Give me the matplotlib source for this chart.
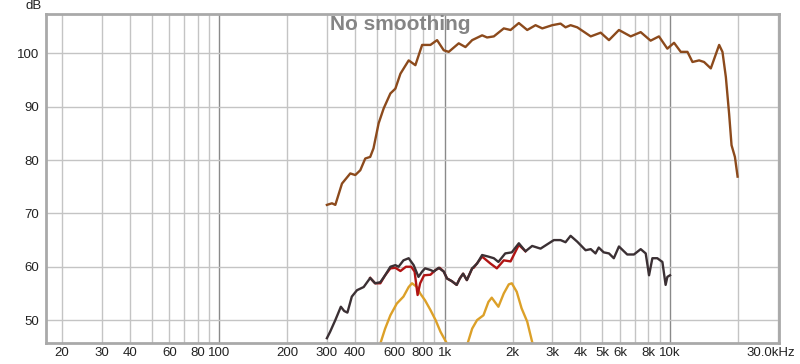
import matplotlib
matplotlib.use("Agg")
import matplotlib.pyplot as plt
import matplotlib.transforms as mtransforms
import numpy as np

plt.rcParams['font.family'] = ['Liberation Sans', 'DejaVu Sans']

# ---- data (Hz, dB) ----
brown_f = [300, 316, 327, 350, 381, 401, 422, 444, 467, 483, 509, 536, 574, 604, 636, 692, 741,
           794, 864, 925, 990, 1042, 1154, 1236, 1324, 1466, 1542, 1652, 1829, 1960, 2133, 2324,
           2530, 2711, 3000, 3267, 3437, 3620, 3875, 4447, 4924, 5358, 5933, 6690, 7410, 8200,
           8930, 9730, 10420, 11160, 11950, 12580, 13460, 14160, 15170, 16520, 17090, 17690,
           18290, 18750, 19410, 19950]
brown_db = [71.6, 71.9, 71.6, 75.6, 77.5, 77.2, 78.1, 80.3, 80.6, 82.2, 86.9, 89.7, 92.5, 93.4, 96.2,
            98.7, 97.8, 101.6, 101.6, 102.5, 100.6, 100.3, 101.9, 101.2, 102.5, 103.4, 103.0, 103.2,
            104.7, 104.4, 105.7, 104.4, 105.3, 104.7, 105.3, 105.6, 104.9, 105.3, 104.9, 103.2,
            103.9, 102.5, 104.4, 103.2, 104.0, 102.4, 103.2, 100.9, 102.0, 100.3, 100.3, 98.4,
            98.7, 98.4, 97.2, 101.6, 100.3, 95.6, 88.7, 82.8, 80.6, 76.9]

dark_f = [300, 310, 327, 346, 358, 370, 387, 408, 437, 467, 491, 518, 544, 574, 604, 624, 656, 692,
          728, 765, 794, 818, 864, 894, 940, 990, 1024, 1075, 1130, 1167, 1207, 1254, 1324, 1392,
          1466, 1563, 1652, 1731, 1856, 1985, 2133, 2283, 2444, 2663, 2850, 3051, 3267, 3437,
          3620, 3875, 4219, 4447, 4670, 4826, 5078, 5358, 5630, 5933, 6457, 6915, 7410, 7800,
          8070, 8350, 8780, 9250, 9560, 9730, 10000]
dark_db = [46.6, 47.8, 50.0, 52.5, 51.7, 51.4, 54.4, 55.6, 56.2, 57.9, 56.9, 57.1, 58.4, 60.0, 60.3,
           60.0, 61.2, 61.6, 60.3, 58.1, 59.1, 59.7, 59.4, 59.1, 59.8, 59.1, 57.8, 57.3, 56.6, 57.8,
           58.7, 57.5, 59.7, 60.6, 62.2, 61.9, 61.6, 60.9, 62.5, 62.7, 64.4, 62.9, 63.9, 63.4,
           64.2, 65.0, 65.0, 64.6, 65.8, 64.7, 63.1, 63.3, 62.5, 63.6, 62.7, 62.5, 61.6, 63.8,
           62.3, 62.3, 63.3, 62.5, 58.4, 61.6, 61.6, 60.9, 56.6, 58.1, 58.4]

red_f = [467, 491, 518, 544, 574, 604, 636, 673, 710, 735, 758, 778, 810, 864, 911, 950, 990, 1024,
         1075, 1130, 1167, 1207, 1254, 1324, 1344, 1466, 1596, 1704, 1829, 1960, 2133, 2283]
red_db = [57.9, 56.9, 56.9, 58.4, 59.7, 59.8, 59.2, 60.0, 60.0, 59.1, 54.7, 56.9, 58.4, 58.5, 59.4,
          59.8, 59.1, 57.8, 57.3, 56.6, 57.8, 58.7, 57.5, 59.7, 59.8, 61.9, 60.6, 59.7, 61.2,
          61.0, 64.1, 62.9]

orange1_f = [505, 518, 544, 574, 613, 656, 692, 716, 753, 778, 818, 864, 911, 958, 1023, 1040]
orange1_db = [44.5, 45.6, 48.4, 50.9, 53.1, 54.4, 56.2, 56.9, 56.2, 55.0, 53.7, 51.9, 50.0, 47.8,
              45.6, 44.5]
orange2_f = [1245, 1263, 1324, 1392, 1486, 1563, 1617, 1731, 1829, 1925, 1985, 2088, 2194, 2324,
             2444, 2470]
orange2_db = [44.5, 45.6, 48.4, 50.0, 50.9, 53.4, 54.2, 52.5, 55.0, 56.7, 56.9, 55.3, 52.2, 49.7,
              45.9, 45.2]

xtick_pos = [20, 30, 40, 50, 60, 70, 80, 90, 100, 200, 300, 400, 500, 600, 700, 800, 900, 1000,
             2000, 3000, 4000, 5000, 6000, 7000, 8000, 9000, 10000, 20000, 30000]
xtick_lab = ['20', '30', '40', '', '60', '', '80', '', '100', '200', '300', '400', '', '600', '',
             '800', '', '1k', '2k', '3k', '4k', '5k', '6k', '', '8k', '', '10k', '', '30.0kHz']
ytick_pos = [50, 60, 70, 80, 90, 100]
ytick_lab = ['50', '60', '70', '80', '90', '100']

fig = plt.figure(figsize=(8, 3.64), dpi=100)
fig.patch.set_facecolor('white')
ax = fig.add_axes([46 / 800, 21 / 364, 732.5 / 800, 329 / 364])
ax.set_xscale('log')
ax.set_xlim(17, 30300)
ax.set_ylim(45.7, 107.4)

ax.set_xticks(xtick_pos)
ax.set_xticklabels(xtick_lab)
ax.xaxis.set_minor_locator(matplotlib.ticker.NullLocator())
ax.set_yticks(ytick_pos)
ax.set_yticklabels(ytick_lab)
ax.tick_params(axis='both', length=0, labelsize=9.5, colors='#222222')
ax.tick_params(axis='x', pad=3)
ax.tick_params(axis='y', pad=5)

# shift the last (unit) label a little to the left so it fits in the figure
last = ax.get_xticklabels()[-1]
last.set_transform(last.get_transform() +
                   mtransforms.ScaledTranslation(-7 / 100, 0, fig.dpi_scale_trans))

ax.grid(True, color='#c4c4c4', lw=1.0)
for pos, gl in zip(xtick_pos, ax.get_xgridlines()):
    if pos in (100, 1000, 10000):
        gl.set_color('#8a8a8a')
ax.set_axisbelow(True)

for s in ax.spines.values():
    s.set_color('#a9a9a9')
    s.set_linewidth(2.0)

lw = 1.7
ax.plot(orange1_f, orange1_db, color='#dca028', lw=lw, solid_joinstyle='round')
ax.plot(orange2_f, orange2_db, color='#dca028', lw=lw, solid_joinstyle='round')
ax.plot(red_f, red_db, color='#b01414', lw=lw, solid_joinstyle='round')
ax.plot(dark_f, dark_db, color='#3b3034', lw=lw, solid_joinstyle='round')
ax.plot(brown_f, brown_db, color='#8c4a1c', lw=lw, solid_joinstyle='round')

fig.text(400 / 800, 1 - 25 / 364, 'No smoothing', ha='center', va='center',
         fontsize=15, fontweight='bold', color='#858585')
fig.text(34 / 800, 1 - 6 / 364, 'dB', ha='center', va='center', fontsize=9.5, color='#222222')

fig.savefig('out.png', dpi=100)
